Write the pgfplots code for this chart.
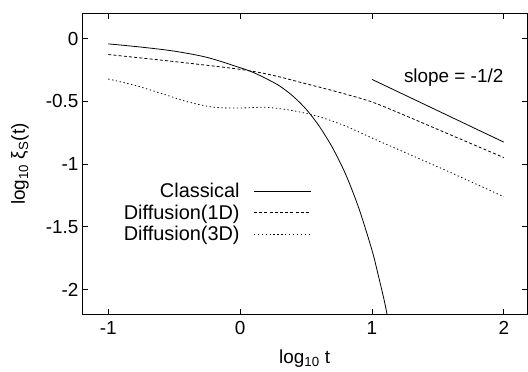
\documentclass[border=0pt]{standalone}
\usepackage{fontspec}
\setmainfont{Liberation Sans}
\usepackage{pgfplots}
\pgfplotsset{compat=1.18}
\begin{document}
\begin{tikzpicture}
\begin{axis}[
  scale only axis, width=446bp, height=301.5bp,
  xmin=-1.2, xmax=2.18, ymin=-2.2, ymax=0.2,
  xtick={-1,0,1,2}, ytick={-2,-1.5,-1,-0.5,0},
  xticklabels={-1,0,1,2}, yticklabels={-2,-1.5,-1,-0.5,0},
  tick align=inside, major tick length=6bp,
  tick style={black, line width=0.7bp},
  axis line style={line width=0.8bp},
  ticklabel style={font=\fontsize{19}{22}\selectfont},
  xticklabel style={yshift=-3bp},
  label style={font=\fontsize{19}{22}\selectfont},
  xlabel={log\textsubscript{10} t},
  xlabel style={yshift=-8bp},
  ylabel={log\textsubscript{10} ξ\textsubscript{S}(t)},
  every axis y label/.append style={at={(axis description cs:-0.139,0.5)}, rotate=0, anchor=center},
  legend plot pos=right,
  legend cell align=right,
  legend style={draw=none, fill=none, at={(0.522,0.45)}, anchor=north east,
    font=\fontsize{20}{23}\selectfont, row sep=1.5bp},
  legend image code/.code={\path (0bp,0bp); \draw[#1] (12bp,0bp) -- (69bp,0bp);},
  every axis plot/.append style={black, line width=0.8bp},
]
\addplot[smooth, no marks] coordinates {
(-1,-0.042) (-0.75,-0.068) (-0.5,-0.100) (-0.25,-0.150) (0,-0.232)
(0.1,-0.270) (0.2,-0.320) (0.3,-0.378) (0.4,-0.458) (0.5,-0.562)
(0.6,-0.698) (0.7,-0.868) (0.8,-1.08) (0.9,-1.35) (1.0,-1.685)
(1.05,-1.895) (1.1,-2.12) (1.15,-2.40)};
\addlegendentry{Classical}
\addplot[smooth, no marks, dash pattern=on 3bp off 2.2bp] coordinates {
(-1,-0.127) (-0.5,-0.183) (0,-0.245) (0.25,-0.293) (0.5,-0.36)
(0.75,-0.428) (1.0,-0.505) (1.25,-0.612) (1.5,-0.724) (1.75,-0.836) (2,-0.948)};
\addlegendentry{Diffusion(1D)}
\addplot[smooth, no marks, dash pattern=on 1.3bp off 2.6bp] coordinates {
(-1,-0.322) (-0.8,-0.372) (-0.6,-0.436) (-0.4,-0.503) (-0.2,-0.547)
(0,-0.553) (0.2,-0.548) (0.4,-0.574) (0.6,-0.623) (0.8,-0.697)
(1.0,-0.792) (1.25,-0.907) (1.5,-1.022) (1.75,-1.14) (2,-1.26)};
\addlegendentry{Diffusion(3D)}
\addplot[no marks] coordinates {(1,-0.325) (2,-0.825)};
\node[anchor=base, font=\fontsize{19}{22}\selectfont] at (axis cs:1.62,-0.349) {slope = -1/2};
\end{axis}
\pgfresetboundingbox
\path ([xshift=-82bp,yshift=-57bp]current axis.south west) rectangle ([xshift=0.5bp,yshift=13.5bp]current axis.north east);
\end{tikzpicture}
\end{document}
